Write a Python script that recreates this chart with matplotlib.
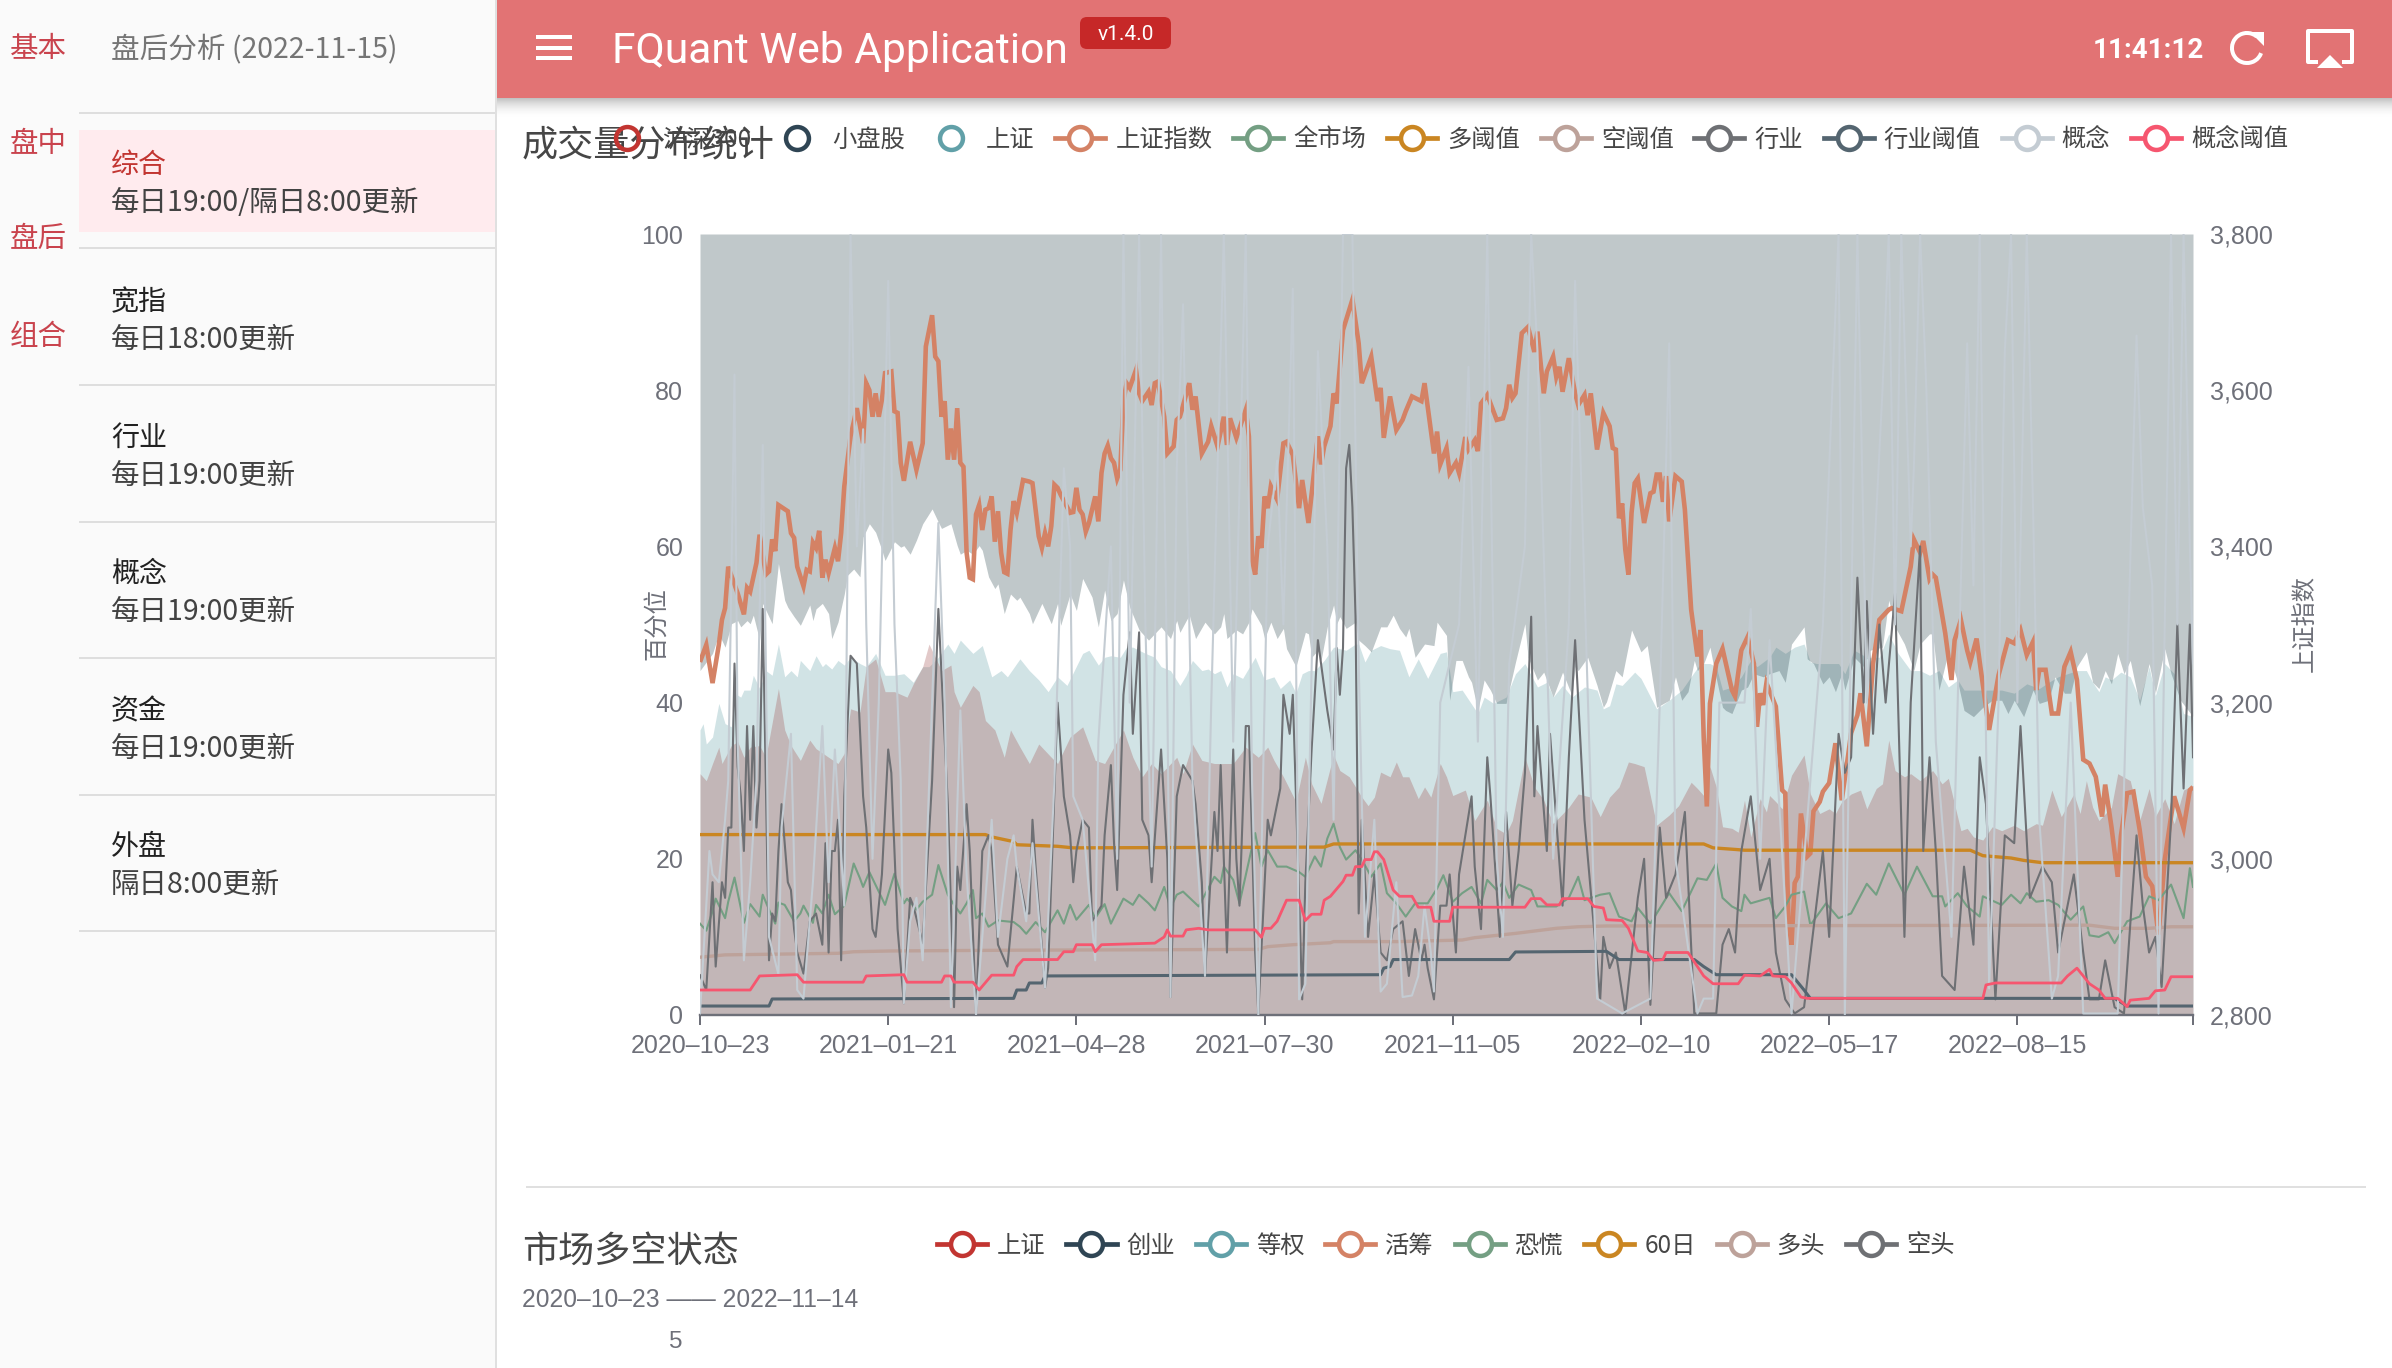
import matplotlib
matplotlib.use("Agg")
import matplotlib.pyplot as plt
from matplotlib.lines import Line2D
from matplotlib.patches import Rectangle, FancyBboxPatch, Arc, Polygon

W, H = 2392, 1368
CJK = ['Noto Sans CJK SC', 'DejaVu Sans']
plt.rcParams['font.family'] = CJK

x_labels = ['2020–10–23', '2021–01–21', '2021–04–28', '2021–07–30', '2021–11–05',
            '2022–02–10', '2022–05–17', '2022–08–15', '']
x_ticks = [0, 60, 120, 180, 240, 300, 360, 420, 476]
left_ticks = [0, 20, 40, 60, 80, 100]
right_ticks = [2800, 3000, 3200, 3400, 3600, 3800]

legend_top = ['沪深300', '小盘股', '上证', '上证指数', '全市场', '多阈值', '空阈值', '行业', '行业阈值', '概念', '概念阈值']
legend_bottom = ['上证', '创业', '等权', '活筹', '恐慌', '60日', '多头', '空头']
menu_titles = ['综合', '宽指', '行业', '概念', '资金', '外盘']
menu_subs = ['每日19:00/隔日8:00更新', '每日18:00更新', '每日19:00更新', '每日19:00更新', '每日19:00更新', '隔日8:00更新']
rail_labels = ['基本', '盘中', '盘后', '组合']

# (trading-day index, value)
sh_index = [(0,3252),(2,3274),(4,3225),(6,3274),(7,3306),(8,3321),(9,3374),(12,3340),(14,3313),(15,3347),(16,3342),(18,3379),(19,3415),(21,3364),(22,3368),(23,3409),(24,3394),(25,3453),(28,3445),(29,3417),(30,3411),(31,3374),(33,3349),(34,3370),(35,3368),(36,3405),(37,3398),(38,3420),(39,3360),(40,3383),(41,3366),(43,3398),(44,3381),(45,3417),(46,3477),(48,3541),(50,3577),(52,3532),(53,3609),(54,3600),(55,3566),(56,3596),(57,3566),(58,3588),(59,3622),(61,3624),(62,3573),(63,3571),(64,3507),(65,3484),(67,3534),(69,3498),(71,3532),(72,3656),(74,3696),(75,3643),(76,3637),(77,3566),(78,3586),(79,3511),(80,3551),(81,3511),(82,3577),(83,3507),(84,3502),(85,3392),(86,3360),(87,3358),(88,3441),(89,3453),(90,3421),(91,3447),(92,3449),(93,3464),(94,3406),(95,3445),(96,3392),(97,3367),(98,3365),(99,3421),(100,3458),(101,3443),(103,3485),(105,3483),(106,3481),(108,3413),(109,3398),(110,3417),(111,3400),(112,3426),(113,3479),(114,3475),(115,3466),(118,3443),(119,3444),(120,3475),(121,3447),(122,3441),(123,3419),(124,3430),(126,3464),(127,3432),(128,3494),(129,3519),(130,3529),(131,3513),(132,3507),(133,3487),(134,3498),(135,3586),(136,3609),(137,3603),(139,3626),(140,3596),(141,3586),(143,3598),(144,3581),(145,3609),(146,3611),(148,3566),(149,3519),(151,3528),(152,3562),(153,3566),(156,3609),(157,3575),(158,3592),(160,3519),(162,3534),(163,3554),(165,3528),(167,3566),(168,3530),(169,3564),(171,3539),(174,3575),(175,3541),(176,3383),(177,3364),(178,3413),(179,3398),(180,3464),(181,3449),(182,3477),(184,3460),(186,3532),(187,3534),(189,3517),(191,3449),(192,3485),(194,3430),(197,3541),(198,3505),(199,3528),(201,3554),(202,3596),(203,3583),(205,3677),(208,3716),(210,3660),(211,3609),(214,3643),(216,3586),(217,3603),(218,3539),(220,3592),(222,3549),(224,3562),(225,3573),(227,3592),(230,3586),(231,3609),(234,3519),(235,3547),(236,3505),(238,3526),(239,3494),(241,3507),(242,3494),(244,3540),(245,3524),(247,3536),(248,3522),(249,3583),(251,3594),(254,3562),(256,3564),(257,3577),(258,3607),(259,3590),(260,3596),(262,3673),(264,3681),(266,3649),(267,3675),(269,3596),(270,3624),(272,3643),(273,3617),(274,3630),(275,3598),(277,3641),(279,3596),(280,3581),(282,3594),(283,3568),(284,3596),(286,3524),(288,3571),(290,3554),(291,3526),(292,3524),(293,3436),(294,3455),(295,3396),(296,3364),(297,3443),(298,3481),(299,3487),(301,3430),(303,3468),(304,3470),(305,3492),(306,3492),(307,3457),(308,3490),(309,3432),(311,3490),(313,3483),(314,3447),(316,3319),(318,3259),(319,3293),(320,3156),(321,3067),(322,3199),(324,3250),(326,3269),(329,3216),(330,3208),(332,3267),(334,3284),(336,3250),(337,3169),(338,3212),(339,3197),(340,3225),(343,3195),(345,3088),(346,3084),(347,2922),(348,2890),(349,2969),(350,2977),(351,3058),(353,3003),(354,3007),(355,3061),(357,3073),(358,3086),(360,3097),(362,3148),(364,3075),(366,3131),(367,3161),(369,3184),(370,3212),(372,3144),(374,3250),(376,3306),(379,3319),(380,3321),(383,3317),(386,3374),(387,3409),(389,3392),(390,3407),(392,3358),(393,3364),(394,3360),(397,3289),(399,3229),(400,3280),(402,3306),(404,3267),(405,3252),(407,3282),(408,3252),(411,3165),(414,3235),(417,3280),(419,3276),(421,3293),(423,3261),(425,3278),(426,3216),(427,3242),(429,3242),(431,3186),(433,3186),(435,3246),(437,3265),(439,3229),(441,3127),(443,3122),(445,3105),(447,3054),(448,3095),(450,3041),(452,2977),(453,3029),(455,3084),(457,3086),(459,3037),(461,2977),(463,2965),(465,2903),(467,2999),(469,3054),(470,3080),(473,3039),(475,3088),(476,3092)]

top_area = [(0,44.1),(4,46.3),(6,48.8),(8,47.1),(10,50.1),(12,50.5),(13,49.7),(15,50.5),(16,50.1),(17,51.2),(19,48),(20,52.7),(23,50.1),(25,57.8),(27,53.1),(28,52.2),(30,51),(32,49.9),(35,52.5),(36,50.5),(37,52),(39,52.7),(41,51.4),(42,48.2),(44,50.3),(46,53.9),(47,56.3),(49,57.1),(51,56.1),(52,61.2),(54,62.9),(56,61.8),(58,59.5),(59,58.2),(62,60.6),(64,59.9),(65,60.1),(67,59),(69,60.8),(71,62.9),(74,64.8),(76,63.1),(77,62.3),(80,62.9),(82,60.1),(83,59),(85,59.5),(87,59),(89,60.1),(90,59.5),(92,56.1),(94,54.6),(95,55.2),(97,51.4),(99,53.9),(101,53.1),(102,53.5),(105,51.4),(106,50.1),(109,52.7),(112,50.1),(114,52.7),(115,49.9),(118,53.9),(120,51.8),(122,55.9),(125,53.5),(127,49.7),(129,54.4),(131,50.5),(133,51.4),(135,55.7),(137,52.2),(140,49.3),(143,48),(147,49.7),(150,48.2),(152,50.5),(153,49),(155,50.5),(156,51.2),(158,48.2),(161,50.3),(164,48.8),(166,49.7),(167,51.4),(168,48.2),(171,49.3),(173,48.8),(175,50.3),(176,52),(179,49.9),(180,48.2),(182,50.3),(184,48.2),(186,49.5),(187,46.9),(190,44.6),(193,49),(194,48.8),(195,45.8),(197,46.7),(198,45.4),(200,49.7),(202,52.5),(203,50.1),(204,51),(206,49.5),(209,50.3),(210,48),(212,47.3),(214,46.5),(217,49.7),(219,49.7),(221,51.2),(223,49.5),(225,48.4),(226,49.5),(228,45.8),(231,47.5),(234,47.3),(235,50.3),(238,48.6),(239,40.3),(241,45.4),(243,45.4),(245,43.3),(246,42.6),(248,39),(250,42.9),(252,41.6),(254,39.9),(257,39.9),(260,45.2),(263,50.1),(264,45.8),(267,42.9),(269,43.9),(272,40.7),(275,43.9),(278,40.9),(279,44.6),(280,44.1),(283,45.8),(286,42.2),(288,39.4),(289,40.1),(292,44.1),(294,43.3),(297,49.3),(300,46.5),(302,47.3),(305,39.4),(309,40.3),(311,43.3),(313,40.3),(315,41.4),(317,45.4),(318,44.1),(320,45),(322,47.1),(323,45),(326,39.4),(327,39),(329,38.6),(332,41.6),(334,42),(336,43.7),(339,43.3),(341,43.7),(344,44.1),(346,42.6),(348,47.5),(352,49.7),(353,45.6),(355,45),(358,42.4),(360,43.3),(362,41.4),(364,43.7),(365,41.6),(368,45.8),(371,44.6),(373,46.7),(377,47.1),(379,53.1),(381,49.7),(384,47.5),(387,44.1),(389,47.5),(392,48.8),(393,48.8),(395,41.6),(398,46.5),(401,42.6),(403,39),(406,38.2),(409,39.4),(412,40.3),(415,40.3),(417,38.6),(419,40.3),(422,38.2),(425,41.6),(427,39.9),(430,40.3),(432,43.3),(435,41.2),(437,41.2),(439,44.6),(442,46.5),(444,42.6),(446,41.8),(448,44.1),(450,42.4),(452,46.3),(454,43.7),(456,45.4),(459,39.6),(462,45),(464,41.2),(467,46.9),(469,43.7),(472,40.3),(476,38.2)]

blue_area = [(0,36.5),(1,37.3),(2,34.7),(4,35.6),(6,39.9),(8,37.3),(10,36.9),(11,41.2),(13,40.7),(14,41.6),(16,41.6),(17,43.5),(19,41.8),(21,44.1),(23,43.5),(25,47.5),(27,43.3),(29,44.1),(31,43.3),(32,45.4),(35,44.1),(37,46),(39,44.6),(40,45),(42,44.3),(44,45.4),(46,44.8),(48,45.8),(51,45),(53,44.6),(56,46.3),(59,43.5),(62,43.5),(65,43.7),(68,42.6),(71,44.6),(73,44.6),(76,45.8),(79,47.5),(81,46.3),(83,48),(87,46.3),(90,47.3),(93,43.3),(96,44.1),(98,43.3),(102,45.6),(105,44.1),(108,42.9),(111,41.4),(114,43.3),(117,42.2),(122,46.3),(124,46.7),(127,44.8),(129,45.8),(131,46),(134,45.8),(136,47.1),(138,47.1),(142,46.3),(145,45.8),(147,44.6),(150,44.1),(153,42.2),(155,43.5),(157,45.4),(160,44.1),(162,44.3),(164,43.7),(166,44.1),(168,42),(170,43.7),(173,43.1),(177,45.8),(180,42.9),(183,43.3),(185,41.8),(188,42.9),(190,41.2),(192,43.7),(194,44.1),(196,44.1),(199,45.4),(202,47.1),(206,46.7),(209,47.5),(210,47.5),(212,45.2),(214,46.7),(217,47.3),(220,46.9),(223,46.7),(226,43.3),(229,45.6),(232,43.1),(236,46.3),(238,46.5),(240,41.4),(243,41.6),(248,38.6),(250,40.7),(253,39.9),(257,40.7),(260,43.7),(263,45),(267,42),(270,42.6),(272,40.7),(275,42.2),(278,40.7),(282,42),(286,41.6),(288,39.2),(290,39.6),(292,42.4),(294,42.2),(298,43.9),(300,43.1),(305,39.2),(309,40.3),(313,41.6),(317,43.9),(319,45),(322,45),(324,44.6),(326,41.6),(329,42),(332,43.3),(335,45.4),(337,44.6),(341,45.8),(343,47.1),(346,46.3),(349,47.1),(352,47.5),(354,45.2),(356,45),(360,45),(363,45),(365,43.7),(368,46.7),(372,45.8),(376,45.8),(379,48.8),(382,46.3),(386,44.1),(389,44.1),(392,43.5),(395,44.1),(398,42),(401,42.9),(403,41.6),(406,41.6),(411,41.6),(415,41.6),(419,41.2),(423,42.4),(427,41.8),(430,42.6),(433,43.3),(436,43.7),(439,44.1),(442,44.1),(444,42.6),(446,41.4),(448,43.3),(450,42.9),(453,43.9),(456,43.3),(459,40.3),(462,44.6),(464,40.9),(467,45),(470,43.7),(473,38.6),(476,38.2)]

red_area = [(0,30.9),(2,30),(4,32.2),(6,34.3),(7,32.2),(10,34.5),(12,35),(14,33),(16,34.3),(19,34.5),(21,33),(25,41.8),(27,36.5),(29,34.5),(32,32.6),(35,35.2),(37,34.1),(41,33),(44,32.2),(46,33.5),(48,39.2),(51,38.8),(53,44.6),(56,45.6),(59,41.4),(62,41.4),(66,40.7),(68,42.4),(71,44.6),(73,47.5),(77,44.1),(80,44.8),(81,41.4),(83,39.4),(87,42.2),(89,41.4),(91,37.7),(94,36.5),(97,33),(99,36.5),(102,34.3),(105,32.2),(108,34.7),(112,33),(114,32.2),(118,35.6),(122,36.9),(126,32.6),(129,32.2),(135,36.5),(138,33),(141,30.5),(144,32.2),(147,30.9),(152,33),(154,30.9),(157,34.7),(160,32.6),(164,32.2),(167,32.2),(170,32.2),(174,34.3),(178,33),(181,34.3),(183,32.6),(186,30.5),(190,27.3),(193,33),(195,29.6),(198,27.1),(202,33.3),(204,31.3),(207,30.5),(211,27.9),(213,26.8),(215,27.9),(217,31.1),(220,30.5),(222,32.4),(224,30.5),(226,30.5),(229,27.7),(231,29.2),(233,27.9),(236,32.2),(238,30.5),(240,28.1),(244,28.8),(247,24.9),(251,27.5),(254,23.9),(257,23.2),(259,24.9),(263,33),(266,29.2),(269,27.5),(272,24.5),(277,26.6),(280,28.3),(284,27.9),(287,25.4),(290,27.9),(293,29.2),(296,32.4),(298,32.2),(301,31.8),(305,24.3),(309,25.6),(312,26.8),(316,29.8),(318,29),(320,28.1),(322,31.8),(324,29.2),(326,24.1),(329,23.9),(331,23.4),(333,27.5),(335,22.8),(338,27.7),(340,26),(341,28.1),(343,27.3),(345,26.4),(348,30.7),(352,33.3),(354,28.3),(357,25.8),(360,26.4),(362,25.8),(364,27.3),(367,28.3),(370,28.8),(372,26.4),(375,29),(377,29.6),(379,35.2),(381,31.3),(384,30.5),(386,30.9),(389,30),(393,31.3),(396,29.6),(398,30.3),(402,23.6),(404,23.9),(406,22.8),(409,22.4),(412,24.1),(415,23.6),(419,24.3),(422,23.6),(426,24.5),(428,24.3),(431,28.8),(434,25.4),(438,28.3),(440,25.8),(442,30),(444,26.6),(446,24.9),(450,26.6),(452,30.9),(456,30),(459,24.9),(462,29),(464,25.4),(467,27.7),(470,24.5),(473,28.8),(476,29.4)]

market = [(0,11.7),(2,10.8),(4,13.3),(5,14.9),(8,12.4),(9,14.5),(11,17.6),(14,11.8),(16,14.2),(19,12.6),(20,15.4),(22,13.5),(24,11.7),(25,14.4),(27,14.1),(30,12),(32,13),(33,14),(36,11.8),(37,14.1),(39,13),(41,15.4),(43,12.9),(46,14),(49,19.4),(51,17.5),(52,16.4),(54,18.3),(57,15.8),(59,14.1),(62,18.1),(65,14.3),(66,14.9),(69,13.5),(71,14.5),(74,15.4),(76,19.2),(79,15.4),(81,14.1),(83,13),(85,14.3),(87,16),(88,12.4),(90,13),(92,11.3),(95,12.1),(100,11.9),(102,11.3),(104,10.4),(107,11.9),(110,10.6),(114,13.4),(116,11.7),(118,14.1),(120,12.2),(124,14.1),(126,12.4),(129,14.2),(131,11.7),(135,14.9),(138,14.1),(140,15.4),(143,14.3),(145,13.4),(148,16.4),(150,13.7),(152,15.4),(154,15.8),(159,13.9),(164,17.7),(166,16.9),(167,19),(170,17.3),(172,14.3),(177,23.3),(179,19),(181,21.1),(184,19),(187,19),(191,18.3),(193,17.7),(196,20.3),(198,19),(200,22.6),(202,24.5),(204,21.5),(206,19.9),(209,21.1),(211,19.9),(214,17.7),(217,19.4),(219,15.6),(222,14.3),(225,12.6),(228,14.3),(232,14.3),(235,16.2),(237,17.9),(240,14.5),(243,15.6),(246,16.4),(249,14.3),(251,17.3),(254,16),(256,17),(258,15),(261,16.7),(265,16),(267,13.9),(273,13.9),(277,15),(280,17.7),(282,14.7),(287,15.4),(290,15.6),(293,12.6),(297,12),(299,13.7),(303,11.7),(309,15.6),(313,13.3),(318,17.5),(321,17.3),(324,19.4),(326,15),(329,13.9),(332,13.3),(333,15.4),(335,14.3),(341,15),(343,12.4),(346,13.9),(348,15.4),(352,15.8),(354,11.5),(359,14.3),(363,12.4),(367,13),(372,16.8),(375,15.4),(379,19.4),(384,15.4),(388,19),(393,15.2),(396,15.2),(397,13.9),(401,15.6),(404,13.9),(408,12.6),(409,15.2),(415,14.1),(418,15.4),(421,14.3),(423,15.6),(426,14.5),(430,14.7),(433,14.1),(437,12.2),(441,13.9),(443,10.2),(446,10),(449,10.6),(451,9.2),(455,12),(459,12.6),(462,15.2),(465,14.7),(469,16.7),(473,12.4),(475,18.8),(476,16.4)]

long_level = [(0,23.1),(91,23.1),(93,22.8),(100,22.2),(101,21.8),(114,21.6),(119,21.4),(199,21.5),(202,21.9),(320,21.9),(323,21.4),(330,21.2),(333,21.1),(405,21.1),(409,20.4),(418,20.1),(422,19.8),(428,19.5),(476,19.5)]
short_level = [(0,7.4),(8,7.7),(44,7.9),(49,8.1),(61,8.2),(101,8.3),(178,8.4),(181,8.75),(189,9),(201,9.25),(202,9.4),(223,9.4),(243,9.6),(247,9.9),(260,10.45),(273,11.1),(280,11.3),(289,11.4),(443,11.5),(451,11.1),(462,11.1),(469,11.3),(476,11.3)]
industry_level = [(0,1.15),(22,1.15),(23,2.05),(100,2.13),(101,3.2),(104,3.2),(105,4.1),(109,4.1),(110,5),(217,5.16),(218,6),(220,6.2),(221,7.1),(258,7.1),(260,8.07),(289,8.15),(293,7.1),(317,7.1),(320,6.2),(324,5.16),(348,5.16),(352,3.2),(354,2.13),(451,2.13),(455,1.15),(476,1.15)]
concept_level = [(0,3.2),(16,3.2),(19,5),(31,5.16),(33,4.2),(52,4.2),(53,5),(65,5.16),(66,4.2),(77,4.2),(78,5),(80,5),(81,4.2),(87,4.2),(89,3.2),(93,5.1),(100,5.1),(101,6.2),(103,7.1),(114,7.1),(116,8.1),(119,8.1),(120,9),(125,9),(126,8.1),(128,9),(145,9.2),(148,10),(149,10.9),(150,10.1),(154,10.1),(155,10.9),(159,11.1),(162,10.9),(177,10.9),(179,9.95),(180,11.1),(182,11.1),(184,12),(187,14.7),(191,14.7),(193,12.1),(195,12.9),(198,12.9),(199,14.7),(201,15.2),(205,17.1),(206,17.9),(208,17.9),(209,19),(211,19),(212,19.9),(214,19.9),(215,20.9),(216,20.9),(218,19.9),(221,16),(223,15.2),(227,15.2),(229,13.8),(233,13.8),(234,12),(239,12),(240,13.8),(263,13.8),(265,14.9),(268,14.9),(270,14.1),(274,14.1),(275,14.9),(283,14.9),(285,13.9),(288,13.7),(289,12.2),(294,12.1),(296,11.1),(299,8.2),(302,8),(304,7),(307,7.1),(308,8),(315,8),(318,6.2),(320,5),(323,4),(331,4),(333,5.1),(338,5),(341,5.85),(342,5),(346,4.9),(348,4.1),(351,2.3),(353,2.13),(409,2.13),(410,3.85),(413,4.1),(434,4.1),(436,5),(439,6),(441,5),(443,4),(446,3.2),(448,2.13),(452,2.13),(455,1.07),(456,1.9),(462,2.13),(464,3.1),(467,3.2),(469,4.9),(476,4.9)]

industry = [(0,5.1),(2,3.2),(4,17),(5,6.2),(7,17),(8,15),(9,24),(10,24),(11,45),(12,31.8),(13,28),(14,21),(15,37),(16,25),(17,37),(18,24),(19,30),(20,52),(22,7),(23,13),(24,12),(25,21),(26,27),(28,17),(29,16),(30,11),(31,8),(33,5.3),(35,12),(37,13),(39,9),(40,22),(41,8),(42,21),(43,21),(44,25),(45,7),(46,28),(48,46),(50,45),(52,28),(53,24),(55,11),(56,10),(58,18),(60,34),(61,31),(63,11),(65,1.5),(67,15),(68,14),(71,9.2),(73,23),(74,30),(76,52),(79,27),(81,1),(82,19),(83,16),(85,27),(86,21),(88,0.2),(90,21),(92,23),(93,21),(95,9),(98,6.2),(101,19),(104,13),(105,13),(106,25),(107,19),(110,3.5),(111,6),(114,40),(116,28),(118,23),(119,17),(120,21),(122,25),(124,24),(125,12),(128,14),(129,23),(131,32),(132,22),(133,16),(135,41),(137,49),(138,36),(140,49),(141,25),(143,23),(144,17),(147,34),(149,20),(150,2.3),(152,28),(154,32),(157,30),(158,27),(160,17),(161,5),(164,26),(165,21),(166,32),(168,8),(170,34),(171,20),(172,14),(174,37),(175,37),(177,8),(178,0.2),(181,25),(182,23),(185,29),(186,41),(188,36),(189,41),(192,2),(193,17),(195,34),(197,48),(200,39),(202,34),(203,47),(204,41),(205,47),(206,70),(207,73),(208,65),(209,51),(210,13),(211,25),(213,10),(215,18),(217,8),(219,7),(221,11),(224,12),(226,5),(228,11),(230,7),(231,9),(232,6),(234,2),(236,14),(238,14),(239,18),(241,8),(242,18),(244,23),(246,28),(247,19),(249,11),(251,33),(252,28),(255,10),(257,26),(259,14),(261,21),(263,31),(264,41),(265,51),(266,28),(267,37),(270,21),(271,36),(275,14),(277,33),(279,48),(282,25),(287,2),(288,10),(290,6),(292,8),(295,0.2),(299,15),(301,20),(303,1.3),(306,24),(308,15),(311,18),(314,26),(317,0.2),(324,0.2),(326,9),(328,11),(330,8),(332,21),(335,28),(338,16),(341,20),(343,8),(346,2),(349,0.2),(352,1),(358,21),(360,10),(363,36),(365,31),(367,33),(369,56),(371,40),(372,53),(374,36),(376,50),(378,40),(381,54),(384,10),(386,40),(389,60),(390,21),(392,33),(394,21),(396,5),(400,3.2),(403,19),(406,9),(408,33),(410,27),(413,2),(416,23),(419,22),(421,37),(424,15),(428,19),(431,17),(433,8),(438,18),(441,8),(443,2),(446,2),(448,7),(451,1),(454,0.2),(458,23),(460,14),(462,8),(464,10),(466,3.6),(469,25),(471,50),(473,29),(475,50),(476,33)]

concept = [(0,0.2),(3,21),(4,18),(6,17),(8,25),(9,30),(11,82),(12,35),(14,7),(16,17),(18,30),(20,73),(21,45),(22,10),(25,5.2),(26,24),(29,36),(31,3.2),(33,2.1),(36,17),(39,37),(41,17),(43,34),(46,14),(48,100),(50,60),(52,75),(53,50),(55,20),(57,40),(60,94),(62,50),(64,30),(65,1.5),(67,12),(69,15),(71,7),(74,40),(76,63),(78,40),(80,1),(83,39),(85,18),(88,0),(91,15),(93,25),(95,10),(98,20),(100,23),(101,19),(104,12),(106,22),(110,3.5),(113,30),(116,70),(118,60),(119,28),(122,25),(126,7),(127,35),(131,60),(133,20),(135,100),(137,40),(140,100),(142,50),(144,19),(147,100),(149,40),(150,2.3),(152,70),(154,91),(157,30),(161,5),(163,40),(167,100),(170,35),(174,100),(176,30),(178,0),(181,60),(184,71),(186,50),(189,93),(191,2),(193,4),(197,85),(200,60),(202,25),(205,100),(208,100),(210,45),(212,10),(215,25),(217,3),(219,4),(222,17),(224,2.3),(227,2.5),(229,5),(231,14),(233,8),(234,3),(236,40),(242,50),(245,83),(248,35),(251,100),(254,20),(256,10),(258,45),(263,60),(265,100),(267,85),(272,20),(277,50),(279,94),(286,2.1),(294,0.2),(303,2.1),(306,40),(309,86),(311,20),(318,0.2),(320,2.1),(323,2.1),(325,40),(333,40),(335,52),(338,20),(341,48),(348,0.2),(351,15),(358,50),(363,100),(365,0),(366,25),(369,100),(372,40),(377,80),(379,100),(381,50),(383,100),(386,60),(387,70),(389,100),(391,80),(394,35),(399,10),(404,86),(406,55),(408,100),(411,3.4),(414,40),(416,85),(418,100),(420,40),(423,100),(425,65),(427,25),(431,2.1),(433,5),(437,40),(441,0.2),(452,0.2),(458,87),(460,65),(463,55),(465,0.2),(469,100),(471,50),(473,100),(475,60),(476,45)]


def split(series):
    return [p[0] for p in series], [p[1] for p in series]


fig = plt.figure(figsize=(W / 100, H / 100), dpi=100, facecolor='white')
px = 0.72  # points per pixel at dpi 100

# ---- application chrome ----
ui = fig.add_axes([0, 0, 1, 1], zorder=-5)
ui.set_xlim(0, W)
ui.set_ylim(H, 0)
ui.axis('off')
ui.add_patch(Rectangle((0, 0), 496, H, fc='#fafafa', ec='none'))
ui.plot([495.5, 495.5], [0, H], color='#e0e0e0', lw=2 * px)
ui.add_patch(Rectangle((79, 130), 416, 102, fc='#ffebee', ec='none'))
for yy in [113, 248, 385, 522, 658, 795, 931]:
    ui.plot([79, 495], [yy, yy], color='#dedede', lw=2 * px, solid_capstyle='butt')
for i in range(20):
    ui.add_patch(Rectangle((496, 98 + i), W - 496, 1.2, fc='black', ec='none',
                           alpha=0.24 * (1 - i / 20) ** 2))
ui.add_patch(Rectangle((496, 0), W - 496, 98, fc='#e27374', ec='none'))

for yy, lab in zip([49, 144, 239, 337], rail_labels):
    ui.text(10, yy, lab, color='#c9434d', fontsize=20.5, va='center', ha='left', weight='medium')
ui.text(111, 49, '盘后分析 (2022-11-15)', color='#757575', fontsize=20.6, va='center', ha='left')
title_y = [165, 302, 438, 574, 711, 847]
sub_y = [203, 340, 476, 612, 749, 885]
for k, (a, b, ya, yb) in enumerate(zip(menu_titles, menu_subs, title_y, sub_y)):
    ui.text(111, ya, a, color='#c23531' if k == 0 else '#212121', fontsize=20.2, va='center', ha='left')
    ui.text(111, yb, b, color='#424242', fontsize=20.5, va='center', ha='left')

for yy in [37, 47.5, 58]:
    ui.plot([536, 572], [yy, yy], color='white', lw=4 * px, solid_capstyle='butt')
ui.text(612, 52, 'FQuant Web Application', color='white', fontsize=30.7, family='Roboto', va='center', ha='left')
ui.add_patch(FancyBboxPatch((1084, 21), 83, 24, boxstyle='round,pad=4,rounding_size=7', fc='#c62828', ec='none'))
ui.text(1125.5, 34, 'v1.4.0', color='white', fontsize=15, family='Roboto', va='center', ha='center')
ui.text(2148, 50, '11:41:12', color='white', fontsize=20, family='Roboto', weight='bold', va='center', ha='center')
ui.add_patch(Arc((2247, 48), 30, 30, theta1=20, theta2=310, ec='white', lw=4 * px))
ui.add_patch(Polygon([[2250, 32], [2264, 32], [2264, 46]], fc='white', ec='none'))
ui.plot([2316, 2308, 2308, 2352, 2352, 2344], [62, 62, 31, 31, 62, 62], color='white', lw=4 * px,
        solid_joinstyle='round')
ui.add_patch(Polygon([[2330, 55], [2317, 68], [2343, 68]], fc='white', ec='none'))

# section titles and second panel header
ui.text(522, 146, '成交量分布统计', color='#464646', fontsize=26, weight='medium', va='center', ha='left', zorder=1)
ui.plot([527, 2365], [1187, 1187], color='#e0e0e0', lw=2 * px)
ui.text(522, 1252, '市场多空状态', color='#464646', fontsize=26, weight='medium', va='center', ha='left')
ui.text(522, 1300, '2020–10–23 —— 2022–11–14', color='#6e7079', fontsize=17.7, family=['Liberation Sans', 'Noto Sans CJK SC'],
        va='center', ha='left')
ui.text(682, 1342, '5', color='#6e7079', fontsize=17.5, family='Liberation Sans', va='center', ha='right')

# ---- chart ----
rect = [700 / W, 1 - 1015 / H, 1493 / W, 781 / H]
ax = fig.add_axes(rect, zorder=1)
ax.patch.set_visible(False)
ax2 = fig.add_axes(rect, zorder=2, sharex=ax)
ax2.patch.set_visible(False)
ax3 = fig.add_axes(rect, zorder=3, sharex=ax)
ax3.patch.set_visible(False)

x, y = split(blue_area)
ax.fill_between(x, y, 0, color='#61a0a8', alpha=0.29, lw=0)
x, y = split(red_area)
ax.fill_between(x, y, 0, color='#a04f4d', alpha=0.3, lw=0)
x, y = split(top_area)
ax.fill_between(x, y, 100, color='#2f4a50', alpha=0.3, lw=0)

x, y = split(sh_index)
ax2.plot(x, y, color='#d48265', lw=3.3, solid_joinstyle='miter', solid_capstyle='butt')

for series, col, lw in [(market, '#749f83', 1.5), (long_level, '#ca8622', 2.4), (short_level, '#bda29a', 2.4),
                        (industry, '#6e7074', 1.5), (industry_level, '#546570', 2.2),
                        (concept, '#c4ccd3', 1.5), (concept_level, '#f6566f', 2.0)]:
    x, y = split(series)
    ax3.plot(x, y, color=col, lw=lw, solid_joinstyle='round')

ax.set_xlim(0, 476)
ax.set_ylim(0, 100)
ax3.set_ylim(0, 100)
ax2.set_ylim(2800, 3800)

tick_font = ['Liberation Sans', 'Noto Sans CJK SC']
ax.set_xticks(x_ticks)
ax.set_xticklabels(x_labels, fontsize=18, color='#6e7079', family=tick_font)
ax.tick_params(axis='x', length=7, width=2 * px, color='#6e7079', pad=7)
ax.set_yticks(left_ticks)
ax.set_yticklabels([str(t) for t in left_ticks], fontsize=18, color='#6e7079', family=tick_font)
ax.tick_params(axis='y', length=0, pad=12)
for s in ['top', 'left', 'right']:
    ax.spines[s].set_visible(False)
ax.spines['bottom'].set_color('#6e7079')
ax.spines['bottom'].set_linewidth(2.4 * px)

ax2.yaxis.tick_right()
ax2.set_yticks(right_ticks)
ax2.set_yticklabels([f'{t:,}' for t in right_ticks], fontsize=18, color='#6e7079', family=tick_font)
ax2.tick_params(axis='y', length=0, pad=12)
ax2.tick_params(axis='x', bottom=False, labelbottom=False)
for s in ax2.spines.values():
    s.set_visible(False)
ax3.axis('off')

ui.text(656, 624, '百分位', color='#6e7079', fontsize=17.5, rotation=90, va='center', ha='center')
ui.text(2305, 624, '上证指数', color='#6e7079', fontsize=17.5, rotation=90, va='center', ha='center')

# ---- legends ----
def handles(colors, no_line=()):
    out = []
    for c_, col in enumerate(colors):
        hollow = c_ in no_line
        out.append(Line2D([0], [0], color=col, lw=3.4 if not hollow else 0,
                          ls='none' if hollow else '-', marker='o', ms=16.5, mew=3.2,
                          mfc='none' if c_ == 0 and hollow else 'white', mec=col))
    return out

top_colors = ['#c23531', '#2f4554', '#61a0a8', '#d48265', '#749f83', '#ca8622', '#bda29a', '#6e7074', '#546570', '#c4ccd3', '#f6566f']
bot_colors = ['#c23531', '#2f4554', '#61a0a8', '#d48265', '#749f83', '#ca8622', '#bda29a', '#6e7074']
for labs, cols, no_line, anchor in [(legend_top, top_colors, (0, 1, 2), (602, 140)),
                                    (legend_bottom, bot_colors, (), (937, 1246))]:
    fig.legend(handles(cols, no_line), labs, loc='center left',
               bbox_to_anchor=(anchor[0] / W, 1 - anchor[1] / H), ncol=len(labs), frameon=False,
               fontsize=17.5, handlelength=2.06, handletextpad=0.41, columnspacing=0.86,
               borderpad=0, borderaxespad=0, labelcolor='#464646', numpoints=1)

fig.savefig('out.png', dpi=100)
